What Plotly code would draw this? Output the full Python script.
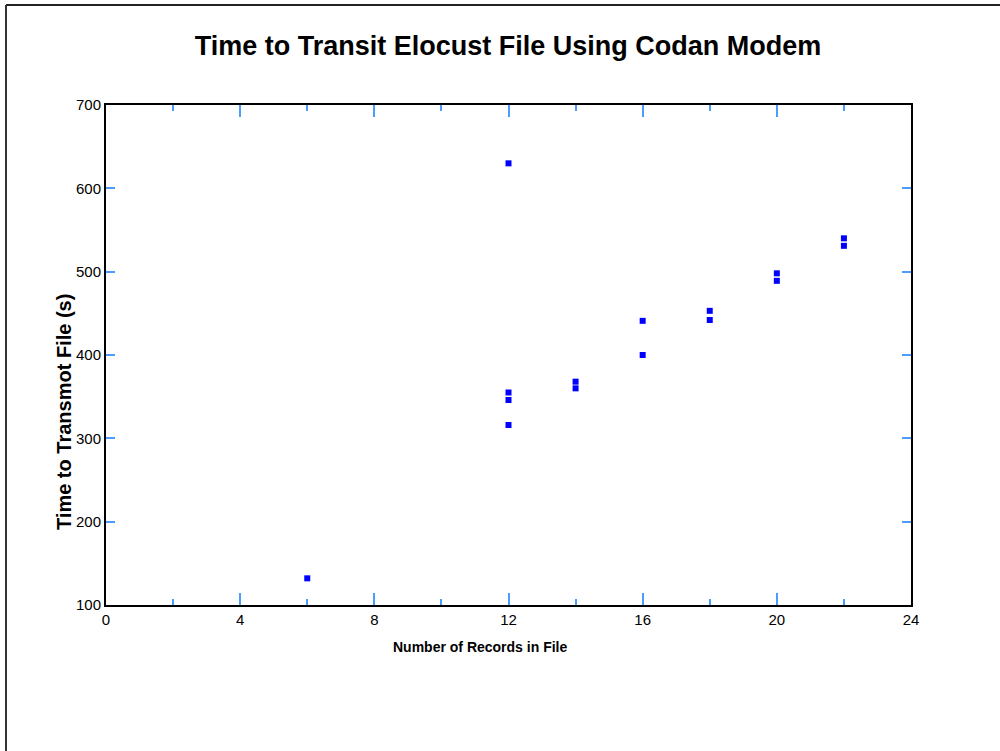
import plotly.graph_objects as go

records = [6, 12, 12, 12, 12, 14, 14, 16, 16, 18, 18, 20, 20, 22, 22]
times = [132, 630, 355, 346, 316, 368, 360, 441, 400, 453, 442, 498, 489, 540, 531]

title_text = "Time to Transit Elocust File Using Codan Modem"
x_title = "Number of Records in File"
y_title = "Time to Transmot File (s)"

FONT = "Liberation Sans, Arial, Helvetica, sans-serif"
TICKC = "#4a9cff"

fig = go.Figure()
fig.add_trace(go.Scatter(
    x=records, y=times, mode="markers",
    marker=dict(symbol="square", size=6, color="#0000ff", line=dict(width=0)),
    showlegend=False,
))

fig.update_layout(
    width=1000, height=751,
    margin=dict(l=106, r=89, t=105, b=146),
    paper_bgcolor="white", plot_bgcolor="white",
    font=dict(family=FONT, color="black"),
    title=dict(text="<b>" + title_text + "</b>", x=0.508, xanchor="center",
               y=1 - 46 / 751, yanchor="middle", font=dict(size=27, family=FONT, color="black")),
    xaxis=dict(
        range=[0, 24], tickmode="linear", tick0=0, dtick=4,
        showgrid=False, zeroline=False,
        showline=True, linecolor="black", linewidth=2, mirror="allticks",
        ticks="inside", ticklen=12, tickwidth=1.5, tickcolor=TICKC,
        tickfont=dict(size=15, family=FONT, color="black"),
        minor=dict(ticks="inside", dtick=2, tick0=0, ticklen=6, tickwidth=1.5, tickcolor=TICKC, showgrid=False),
    ),
    yaxis=dict(
        range=[100, 700], tickmode="linear", tick0=100, dtick=100,
        showgrid=False, zeroline=False,
        showline=True, linecolor="black", linewidth=2, mirror="allticks",
        ticks="inside", ticklen=9, tickwidth=1.5, tickcolor=TICKC,
        tickfont=dict(size=15, family=FONT, color="black"),
    ),
    annotations=[
        dict(text="<b>" + x_title + "</b>", xref="paper", yref="paper",
             x=(480 - 106) / 805, y=(605 - 647) / 500, xanchor="center", yanchor="middle",
             showarrow=False, font=dict(size=14, family=FONT, color="black")),
        dict(text="<b>" + y_title + "</b>", xref="paper", yref="paper",
             x=(64 - 106) / 805, y=(605 - 412) / 500, xanchor="center", yanchor="middle",
             textangle=-90, showarrow=False, font=dict(size=20, family=FONT, color="black")),
    ],
    shapes=[
        dict(type="line", xref="paper", yref="paper",
             x0=(6 - 106) / 805, x1=(1010 - 106) / 805, y0=(605 - 5) / 500, y1=(605 - 5) / 500,
             line=dict(color="#222222", width=2)),
        dict(type="line", xref="paper", yref="paper",
             x0=(6 - 106) / 805, x1=(6 - 106) / 805, y0=(605 - 5) / 500, y1=(605 - 760) / 500,
             line=dict(color="#333333", width=2)),
    ],
)

fig.write_html("out.html", config={"displayModeBar": False},
               post_script="document.body.style.margin='0px';document.body.style.overflow='hidden';")
